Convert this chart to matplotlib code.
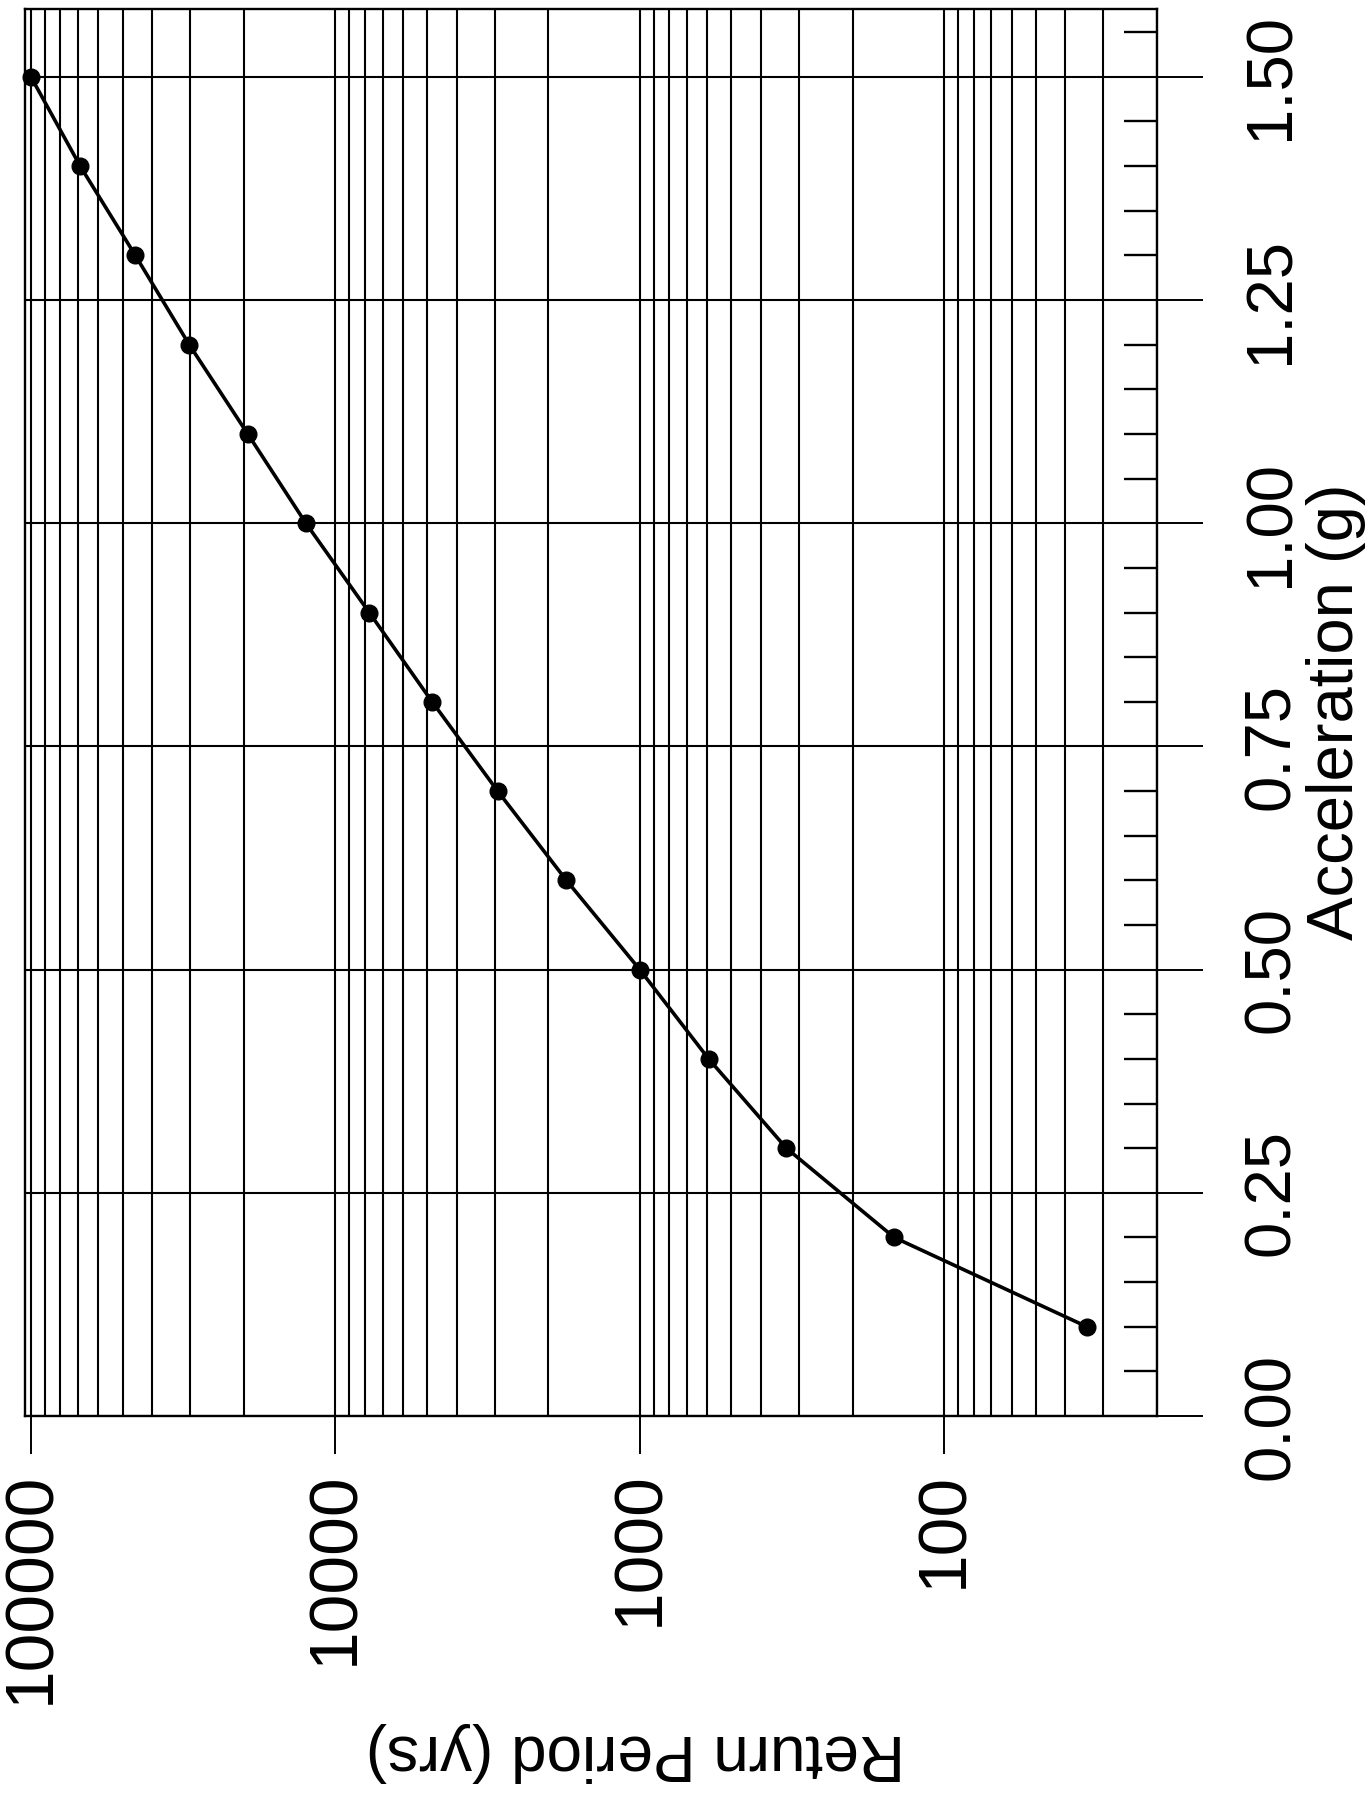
import matplotlib
matplotlib.use("Agg")
import matplotlib.pyplot as plt
from matplotlib.ticker import FixedLocator, LogLocator, NullFormatter

plt.rcParams['font.family'] = ['Liberation Sans', 'DejaVu Sans']

# Data
acceleration_g = [0.1, 0.2, 0.3, 0.4, 0.5, 0.6, 0.7, 0.8, 0.9, 1.0, 1.1, 1.2, 1.3, 1.4, 1.5]
return_period_yrs = [34, 146, 330, 594, 1000, 1742, 2930, 4810, 7740, 12500,
                     19400, 30200, 45400, 68900, 100000]

rp_ticks = [100000, 10000, 1000, 100]
rp_tick_labels = ['100000', '10000', '1000', '100']
acc_ticks = [0.0, 0.25, 0.50, 0.75, 1.00, 1.25, 1.50]
acc_tick_labels = ['0.00', '0.25', '0.50', '0.75', '1.00', '1.25', '1.50']
acc_minor_ticks = [0.05, 0.10, 0.15, 0.20, 0.30, 0.35, 0.40, 0.45, 0.55, 0.60, 0.65, 0.70,
                   0.80, 0.85, 0.90, 0.95, 1.05, 1.10, 1.15, 1.20, 1.30, 1.35, 1.40, 1.45, 1.55]

W, H = 1371, 1795
fig = plt.figure(figsize=(W / 100, H / 100), dpi=100)

left_px, right_px, top_px, bottom_px = 25, 1157, 9, 1416
ax = fig.add_axes([left_px / W, 1 - bottom_px / H, (right_px - left_px) / W, (bottom_px - top_px) / H])

ax.plot(return_period_yrs, acceleration_g, color='black', lw=2.6, marker='o', ms=12,
        mfc='black', mec='black', zorder=5, clip_on=False)

ax.set_xscale('log')
ax.set_xlim(1.046e5, 20)
ax.set_ylim(0, 1.576)

# x axis (return period)
ax.xaxis.set_major_locator(FixedLocator(rp_ticks))
ax.set_xticklabels(rp_tick_labels, rotation=90, fontsize=50)
ax.xaxis.set_minor_locator(LogLocator(base=10, subs=range(2, 10), numticks=20))
ax.xaxis.set_minor_formatter(NullFormatter())
ax.tick_params(axis='x', which='major', direction='out', length=27, width=1.4, pad=13)
ax.tick_params(axis='x', which='minor', length=0)

# y axis (acceleration) on the right
ax.yaxis.set_ticks_position('right')
ax.yaxis.set_major_locator(FixedLocator(acc_ticks))
ax.set_yticklabels(acc_tick_labels, rotation=90, fontsize=47, va='center')
ax.yaxis.set_minor_locator(FixedLocator(acc_minor_ticks))
ax.tick_params(axis='y', which='major', direction='out', length=33, width=1.4, pad=28)
ax.tick_params(axis='y', which='minor', direction='in', length=24, width=1.7)

ax.grid(which='both', axis='x', color='black', lw=1.5)
ax.grid(which='major', axis='y', color='black', lw=1.5)
ax.set_axisbelow(True)

for s in ax.spines.values():
    s.set_linewidth(1.7)
    s.set_color('black')

fig.text(1336 / W, 1 - 712 / H, 'Acceleration (g)', rotation=90, fontsize=47,
         ha='center', va='center')
fig.text(635 / W, 1 - 1752 / H, 'Return Period (yrs)', rotation=180, fontsize=46,
         ha='center', va='center')

fig.savefig('out.png', dpi=100, facecolor='white')
